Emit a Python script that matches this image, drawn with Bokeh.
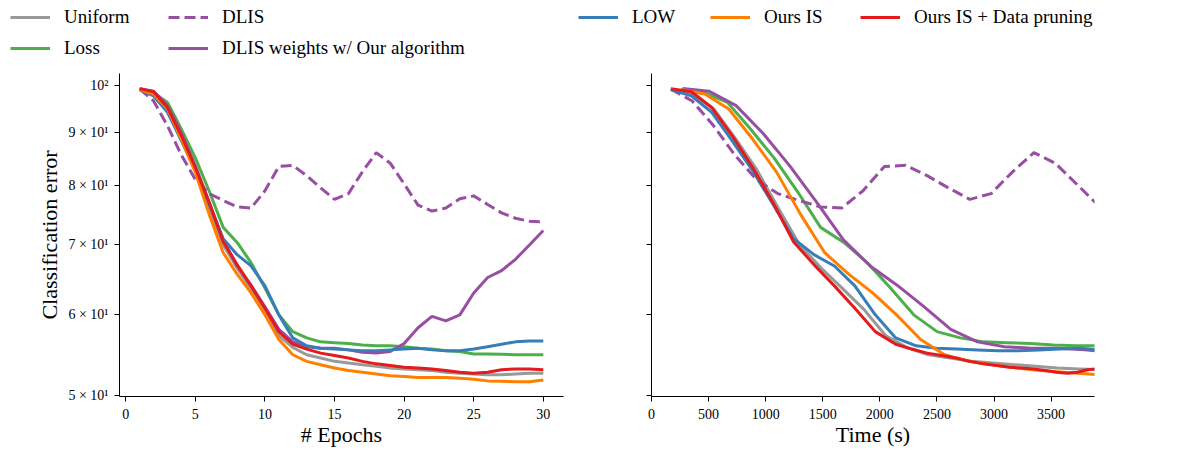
from bokeh.plotting import figure
from bokeh.models import Range1d, FixedTicker, Legend, LegendItem
from bokeh.layouts import column, row
from bokeh.embed import file_html
from bokeh.resources import INLINE

# ---------------- data ----------------
epochs = list(range(1, 31))

uniform = [99.0, 98.0, 94.8, 88.8, 82.8, 76.0, 70.0, 66.5, 63.5, 60.6, 57.2, 55.7,
           54.8, 54.4, 54.0, 53.8, 53.6, 53.4, 53.2, 53.1, 53.0, 52.9, 52.7, 52.6,
           52.5, 52.4, 52.4, 52.5, 52.6, 52.6]
loss = [99.0, 98.3, 96.2, 90.6, 85.0, 78.9, 72.8, 70.4, 67.3, 63.6, 59.9, 57.7,
        56.9, 56.4, 56.3, 56.2, 56.0, 55.9, 55.9, 55.8, 55.6, 55.5, 55.3, 55.2,
        54.9, 54.9, 54.85, 54.8, 54.8, 54.8]
dlis = [99.1, 96.5, 91.3, 85.5, 81.0, 78.5, 77.3, 76.2, 76.0, 79.0, 83.4, 83.6,
        81.7, 79.5, 77.5, 78.5, 82.4, 86.0, 84.0, 80.2, 76.5, 75.5, 76.0, 77.6,
        78.1, 76.6, 75.2, 74.3, 73.8, 73.7]
dlis_ours = [99.2, 98.6, 95.5, 89.8, 83.5, 77.0, 70.8, 66.8, 64.0, 61.0, 58.0, 56.4,
             55.8, 55.6, 55.6, 55.4, 55.1, 55.0, 55.2, 56.2, 58.2, 59.7, 59.1, 59.9,
             62.9, 65.1, 66.1, 67.8, 70.0, 72.3]
low = [99.0, 97.6, 94.1, 88.3, 82.6, 76.6, 71.0, 68.5, 66.8, 63.9, 59.9, 56.9,
       55.9, 55.6, 55.5, 55.4, 55.3, 55.3, 55.4, 55.5, 55.6, 55.4, 55.3, 55.3,
       55.5, 55.8, 56.1, 56.4, 56.5, 56.5]
ours_is = [99.0, 98.0, 94.8, 88.6, 82.3, 74.9, 68.8, 65.6, 62.9, 59.9, 56.7, 54.8,
           54.0, 53.6, 53.2, 52.9, 52.7, 52.5, 52.3, 52.2, 52.1, 52.1, 52.1, 52.0,
           51.9, 51.7, 51.65, 51.6, 51.6, 51.8]
ours_is_dp = [99.2, 98.5, 95.1, 89.3, 83.2, 76.9, 70.5, 67.0, 63.9, 60.8, 57.7, 56.1,
              55.5, 55.0, 54.7, 54.4, 54.0, 53.7, 53.5, 53.3, 53.2, 53.1, 52.9, 52.7,
              52.6, 52.7, 53.0, 53.1, 53.1, 53.0]

# cumulative wall-clock time (s) at the end of each epoch
time_uniform = [170, 358, 546, 734, 922, 1110, 1298, 1486, 1674, 1862, 2050, 2238,
                2426, 2614, 2802, 2990, 3178, 3366, 3554, 3742, 3930, 4118, 4306, 4494,
                4682, 4870, 5058, 5246, 5434, 5622]
time_loss = [257, 461, 665, 869, 1073, 1277, 1481, 1685, 1889, 2093, 2297, 2501,
             2705, 2909, 3113, 3317, 3521, 3725, 3929, 4133, 4337, 4541, 4745, 4949,
             5153, 5357, 5561, 5765, 5969, 6173]
time_dlis = [170, 357, 544, 731, 918, 1105, 1292, 1479, 1666, 1853, 2040, 2227,
             2414, 2601, 2788, 2975, 3162, 3349, 3536, 3723, 3910, 4097, 4284, 4471,
             4658, 4845, 5032, 5219, 5406, 5593]
time_dlis_ours = [271, 506, 741, 976, 1211, 1446, 1681, 1916, 2151, 2386, 2621, 2856,
                  3091, 3326, 3561, 3796, 4031, 4266, 4501, 4736, 4971, 5206, 5441, 5676,
                  5911, 6146, 6381, 6616, 6851, 7086]
time_low = [170, 349, 528, 707, 886, 1065, 1244, 1423, 1602, 1781, 1960, 2139,
            2318, 2497, 2676, 2855, 3034, 3213, 3392, 3571, 3750, 3929, 4108, 4287,
            4466, 4645, 4824, 5003, 5182, 5361]
time_ours_is = [257, 467, 677, 887, 1097, 1307, 1517, 1727, 1937, 2147, 2357, 2567,
                2777, 2987, 3197, 3407, 3617, 3827, 4037, 4247, 4457, 4667, 4877, 5087,
                5297, 5507, 5717, 5927, 6137, 6347]
time_ours_is_dp = [170, 349, 528, 707, 886, 1065, 1244, 1423, 1602, 1781, 1960, 2139,
                   2279, 2414, 2544, 2669, 2789, 2907, 3022, 3134, 3244, 3349, 3449, 3546,
                   3641, 3731, 3819, 3905, 3989, 4071]

y_ticks = [50, 60, 70, 80, 90, 100]
y_tick_labels = ["5 × 10¹", "6 × 10¹", "7 × 10¹", "8 × 10¹", "9 × 10¹", "10²"]
epoch_ticks = [0, 5, 10, 15, 20, 25, 30]
time_ticks = [0, 500, 1000, 1500, 2000, 2500, 3000, 3500]

series = [
    ("Uniform", uniform, time_uniform, "#999999", "solid"),
    ("Loss", loss, time_loss, "#4daf4a", "solid"),
    ("DLIS", dlis, time_dlis, "#984ea3", "11 5"),
    ("DLIS weights w/ Our algorithm", dlis_ours, time_dlis_ours, "#984ea3", "solid"),
    ("LOW", low, time_low, "#377eb8", "solid"),
    ("Ours IS", ours_is, time_ours_is, "#ff7f00", "solid"),
    ("Ours IS + Data pruning", ours_is_dp, time_ours_is_dp, "#e41a1c", "solid"),
]

FONT = "Liberation Serif"
LW = 3

y_range = Range1d(49.93, 102.6)


def style_axes(p):
    p.outline_line_color = None
    p.grid.visible = False
    p.background_fill_color = "white"
    for ax in p.xaxis + p.yaxis:
        ax.axis_line_color = "black"
        ax.axis_line_width = 1
        ax.major_tick_line_color = "black"
        ax.major_tick_out = 5
        ax.major_tick_in = 0
        ax.minor_tick_line_color = None
        ax.major_label_text_font = FONT
        ax.major_label_text_font_size = "14px"
        ax.major_label_text_color = "black"
        ax.axis_label_text_font = FONT
        ax.axis_label_text_font_size = "22px"
        ax.axis_label_text_font_style = "normal"
        ax.axis_label_text_color = "black"
    p.xaxis.major_label_standoff = 7
    p.xaxis.axis_label_standoff = 0


MAIN_H = 383
TOP_B = 7
BOT_B = 50

# ---------------- left: epochs ----------------
p1 = figure(width=573, height=MAIN_H, y_axis_type="log",
            x_range=Range1d(-0.45, 31.45), y_range=y_range,
            toolbar_location=None, output_backend="svg",
            min_border_left=119, min_border_right=10,
            min_border_top=TOP_B, min_border_bottom=BOT_B)
for name, ys, ts, color, dash in series:
    p1.line(epochs, ys, line_color=color, line_width=LW, line_dash=dash)
p1.xaxis.ticker = FixedTicker(ticks=epoch_ticks)
p1.yaxis.ticker = FixedTicker(ticks=y_ticks)
p1.yaxis.major_label_overrides = {t: lab for t, lab in zip(y_ticks, y_tick_labels)}
p1.xaxis.axis_label = "# Epochs"
p1.yaxis.axis_label = "Classification error"
style_axes(p1)
p1.yaxis.major_label_standoff = 6
p1.yaxis.axis_label_standoff = 3

# ---------------- right: time ----------------
p2 = figure(width=531, height=MAIN_H, y_axis_type="log",
            x_range=Range1d(0, 3880), y_range=y_range,
            toolbar_location=None, output_backend="svg",
            min_border_left=78, min_border_right=10,
            min_border_top=TOP_B, min_border_bottom=BOT_B)
for name, ys, ts, color, dash in series:
    p2.line(ts, ys, line_color=color, line_width=LW, line_dash=dash)
p2.xaxis.ticker = FixedTicker(ticks=time_ticks)
p2.yaxis.ticker = FixedTicker(ticks=y_ticks)
p2.yaxis.major_label_overrides = {t: "" for t in y_ticks}
p2.xaxis.axis_label = "Time (s)"
style_axes(p2)

# ---------------- legend strip ----------------
LEG_H = 66
leg = figure(width=1180, height=LEG_H, x_range=Range1d(0, 1), y_range=Range1d(0, 1),
             toolbar_location=None, output_backend="svg",
             x_axis_location=None, y_axis_location=None, min_border=0)
leg.outline_line_color = None
leg.grid.visible = False
rends = {}
for name, ys, ts, color, dash in series:
    # proxy renderers kept outside the visible range; they only supply legend glyphs
    rends[name] = leg.line(x=[-10, -9], y=[-10, -9], line_color=color,
                           line_width=LW, line_dash=dash)

columns = [
    (10, ["Uniform", "Loss"]),
    (168, ["DLIS", "DLIS weights w/ Our algorithm"]),
    (578, ["LOW"]),
    (710, ["Ours IS"]),
    (860, ["Ours IS + Data pruning"]),
]
ITEM_H = 24
SPACING = 7
LEG_TOP = 4.7
for x0, names in columns:
    h = len(names) * ITEM_H + (len(names) - 1) * SPACING
    lg = Legend(items=[LegendItem(label=n, renderers=[rends[n]]) for n in names],
                location=(x0, LEG_H - LEG_TOP - h), orientation="vertical",
                glyph_width=40, glyph_height=ITEM_H, label_height=ITEM_H,
                label_standoff=14, spacing=SPACING, padding=0, margin=0,
                label_text_font=FONT, label_text_font_size="19px",
                label_text_color="black",
                border_line_color=None, background_fill_alpha=0)
    leg.add_layout(lg)

layout = column(leg, row(p1, p2))
open("out.html", "w").write(file_html(layout, INLINE))
